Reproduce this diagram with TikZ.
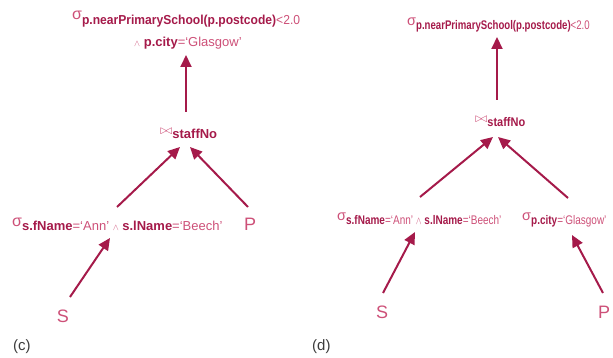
\documentclass[tikz,border=0pt]{standalone}
\usepackage{fontspec}
\setmainfont{Liberation Sans}
\usetikzlibrary{arrows.meta,calc}
\definecolor{dk}{RGB}{165,26,74}
\definecolor{lt}{RGB}{205,80,120}
\definecolor{capc}{RGB}{60,60,60}
\newcommand{\bdt}[1]{{\bfseries\color{dk}#1}}
\newcommand{\lgt}[1]{{\color{lt}#1}}
\newcommand{\sgc}{\raisebox{5pt}{\fontsize{16}{16}\selectfont\color{lt}σ}}
\newcommand{\sgd}{\raisebox{4.5pt}{\fontsize{14.5}{14.5}\selectfont\color{lt}σ}}
\newcommand{\wdg}{{\color{lt}\scalebox{0.75}{$\wedge$}}}
\newcommand{\btie}{\raisebox{4pt}{\color{lt}\scalebox{1.25}[1.1]{$\bowtie$}}}
\tikzset{
  lbl/.style={inner sep=0pt, anchor=base west, font=\fontsize{13}{13}\selectfont},
  lbld/.style={inner sep=0pt, anchor=base west, font=\fontsize{12.5}{12.5}\selectfont},
  rel/.style={inner sep=0pt, anchor=base, font=\fontsize{18}{18}\selectfont, text=lt},
  captxt/.style={inner sep=0pt, anchor=base west, font=\fontsize{15}{15}\selectfont, text=capc},
  arr/.style={draw=dk, line width=2pt, -{Triangle[length=12pt,width=11pt]}}
}
\begin{document}
\begin{tikzpicture}[x=1pt,y=-1pt]
\useasboundingbox (0,0) rectangle (613,358);
% ---------- (c)
\node[lbl] (topC) at (72,25) {\sgc\scalebox{0.93}[1]{\bdt{p.nearPrimarySchool(p.postcode)}\lgt{<2.0}}};
\node[lbl] (topC2) at (134,47) {\wdg\ \bdt{p.city}\lgt{=‘Glasgow’}};
\node[lbl] (joinC) at (160,139) {\btie\bdt{staffNo}};
\node[lbl] (sigC) at (12,231) {\sgc\bdt{s.fName}\lgt{=‘Ann’} \wdg\ \bdt{s.lName}\lgt{=‘Beech’}};
\node[rel] (Pc) at (250,230) {P};
\node[rel] (Sc) at (63,322) {S};
\node[captxt] (capC) at (13,350) {(c)};
\draw[arr] ($(joinC.base west)+(26,-27)$) -- ($(topC2.base west)+(52,8)$);
\draw[arr] ($(sigC.base west)+(105,-24)$) -- ($(joinC.base west)+(20,8)$);
\draw[arr] ($(Pc.base)+(-2,-23)$) -- ($(joinC.base west)+(30,8)$);
\draw[arr] ($(Sc.base)+(7,-25)$) -- ($(sigC.base west)+(98,7)$);
% ---------- (d)
\node[lbld] (topD) at (407,30) {\sgd\scalebox{0.77}[1]{\bdt{p.nearPrimarySchool(p.postcode)}\lgt{<2.0}}};
\node[lbld] (joinD) at (475,127) {\btie\scalebox{0.88}[1]{\bdt{staffNo}}};
\node[lbld] (sigD1) at (337,225) {\sgd\scalebox{0.8}[1]{\bdt{s.fName}\lgt{=‘Ann’} {\fontsize{15}{15}\selectfont\wdg}\ \bdt{s.lName}\lgt{=‘Beech’}}};
\node[lbld] (sigD2) at (522,225) {\sgd\scalebox{0.8}[1]{\bdt{p.city}\lgt{=‘Glasgow’}}};
\node[rel] (Sd) at (382,318) {S};
\node[rel] (Pd) at (604,318) {P};
\node[captxt] (capD) at (312,350) {(d)};
\draw[arr] ($(joinD.base west)+(22,-27)$) -- ($(topD.base west)+(90,7)$);
\draw[arr] ($(sigD1.base west)+(83,-28)$) -- ($(joinD.base west)+(18,10)$);
\draw[arr] ($(sigD2.base west)+(46,-27)$) -- ($(joinD.base west)+(23,10)$);
\draw[arr] ($(Sd.base)+(1,-25)$) -- ($(sigD1.base west)+(78,7)$);
\draw[arr] ($(Pd.base)+(-1,-25)$) -- ($(sigD2.base west)+(50,10)$);
\end{tikzpicture}
\end{document}
